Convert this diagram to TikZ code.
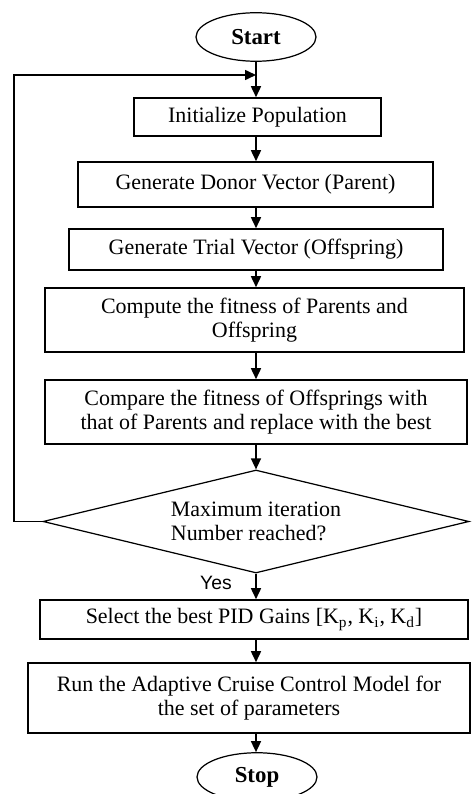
\documentclass[tikz,border=0pt]{standalone}
\usepackage{fontspec}
\setmainfont{Liberation Serif}
\newfontfamily\yesfont{Liberation Sans}
\usepackage{tikz}
\usetikzlibrary{shapes.geometric,arrows.meta}

\begin{document}
\begin{tikzpicture}[
  every node/.style={font=\fontsize{12.5}{13.4}\selectfont},
  box/.style={draw, line width=0.9pt, inner sep=0pt, align=center},
  term/.style={draw, ellipse, line width=0.7pt, inner sep=0pt, minimum width=2.4cm, minimum height=0.97cm, font=\fontsize{13}{15}\selectfont\bfseries},
  decision/.style={draw, diamond, line width=0.7pt, inner sep=0pt, aspect=4.1, minimum width=8.52cm, minimum height=2.06cm, align=left},
  arr/.style={line width=0.9pt, -{Triangle[length=0.22cm, width=0.2cm]}}
]
\useasboundingbox (0, 0) rectangle (9.44, -15.88);

\path (5.12, -0.74) node[term] (start) {Start};

\path (5.15, -2.34) node[box, minimum width=4.94cm, minimum height=0.76cm] (init) {Initialize Population};
\path (5.11, -3.69) node[box, minimum width=7.1cm, minimum height=0.9cm] (donor) {Generate Donor Vector (Parent)};
\path (5.12, -4.99) node[box, minimum width=7.48cm, minimum height=0.82cm] (trial) {Generate Trial Vector (Offspring)};
\path (5.09, -6.4) node[box, minimum width=8.38cm, minimum height=1.28cm] (fitness) {Compute the fitness of Parents and\\Offspring};
\path (5.12, -8.24) node[box, minimum width=8.44cm, minimum height=1.28cm] (compare) {Compare the fitness of Offsprings with\\that of Parents and replace with the best};

\path (5.12, -10.43) node[decision] (check) {Maximum iteration\\Number reached?};
\path (4.32, -11.66) node[font=\fontsize{11}{13}\selectfont\yesfont] (yes) {Yes};

\path (5.08, -12.39) node[box, minimum width=8.56cm, minimum height=0.78cm] (select) {Select the best PID Gains [K\textsubscript{p}, K\textsubscript{i}, K\textsubscript{d}]};
\path (4.98, -13.96) node[box, minimum width=8.84cm, minimum height=1.4cm] (run) {Run the Adaptive Cruise Control Model for\\the set of parameters};

\path (5.14, -15.54) node[term] (stop) {Stop};

% loop back from the decision
\coordinate (loop) at (0.28, -1.5);
\coordinate (merge) at (5.12, -1.5);

\draw[arr] (start.south) -- (init.north -| start.south);
\draw[arr] (init.south -| start.south) -- (donor.north -| start.south);
\draw[arr] (donor.south -| start.south) -- (trial.north -| start.south);
\draw[arr] (trial.south -| start.south) -- (fitness.north -| start.south);
\draw[arr] (fitness.south -| start.south) -- (compare.north -| start.south);
\draw[arr] (compare.south -| start.south) -- (check.north);
\draw[arr] (check.south) -- (select.north -| check.south);
\draw[arr] (select.south -| check.south) -- (run.north -| check.south);
\draw[arr] (run.south -| check.south) -- (stop.north -| check.south);
\draw[arr] (check.west) -| (loop) -- (merge);
\end{tikzpicture}
\end{document}
